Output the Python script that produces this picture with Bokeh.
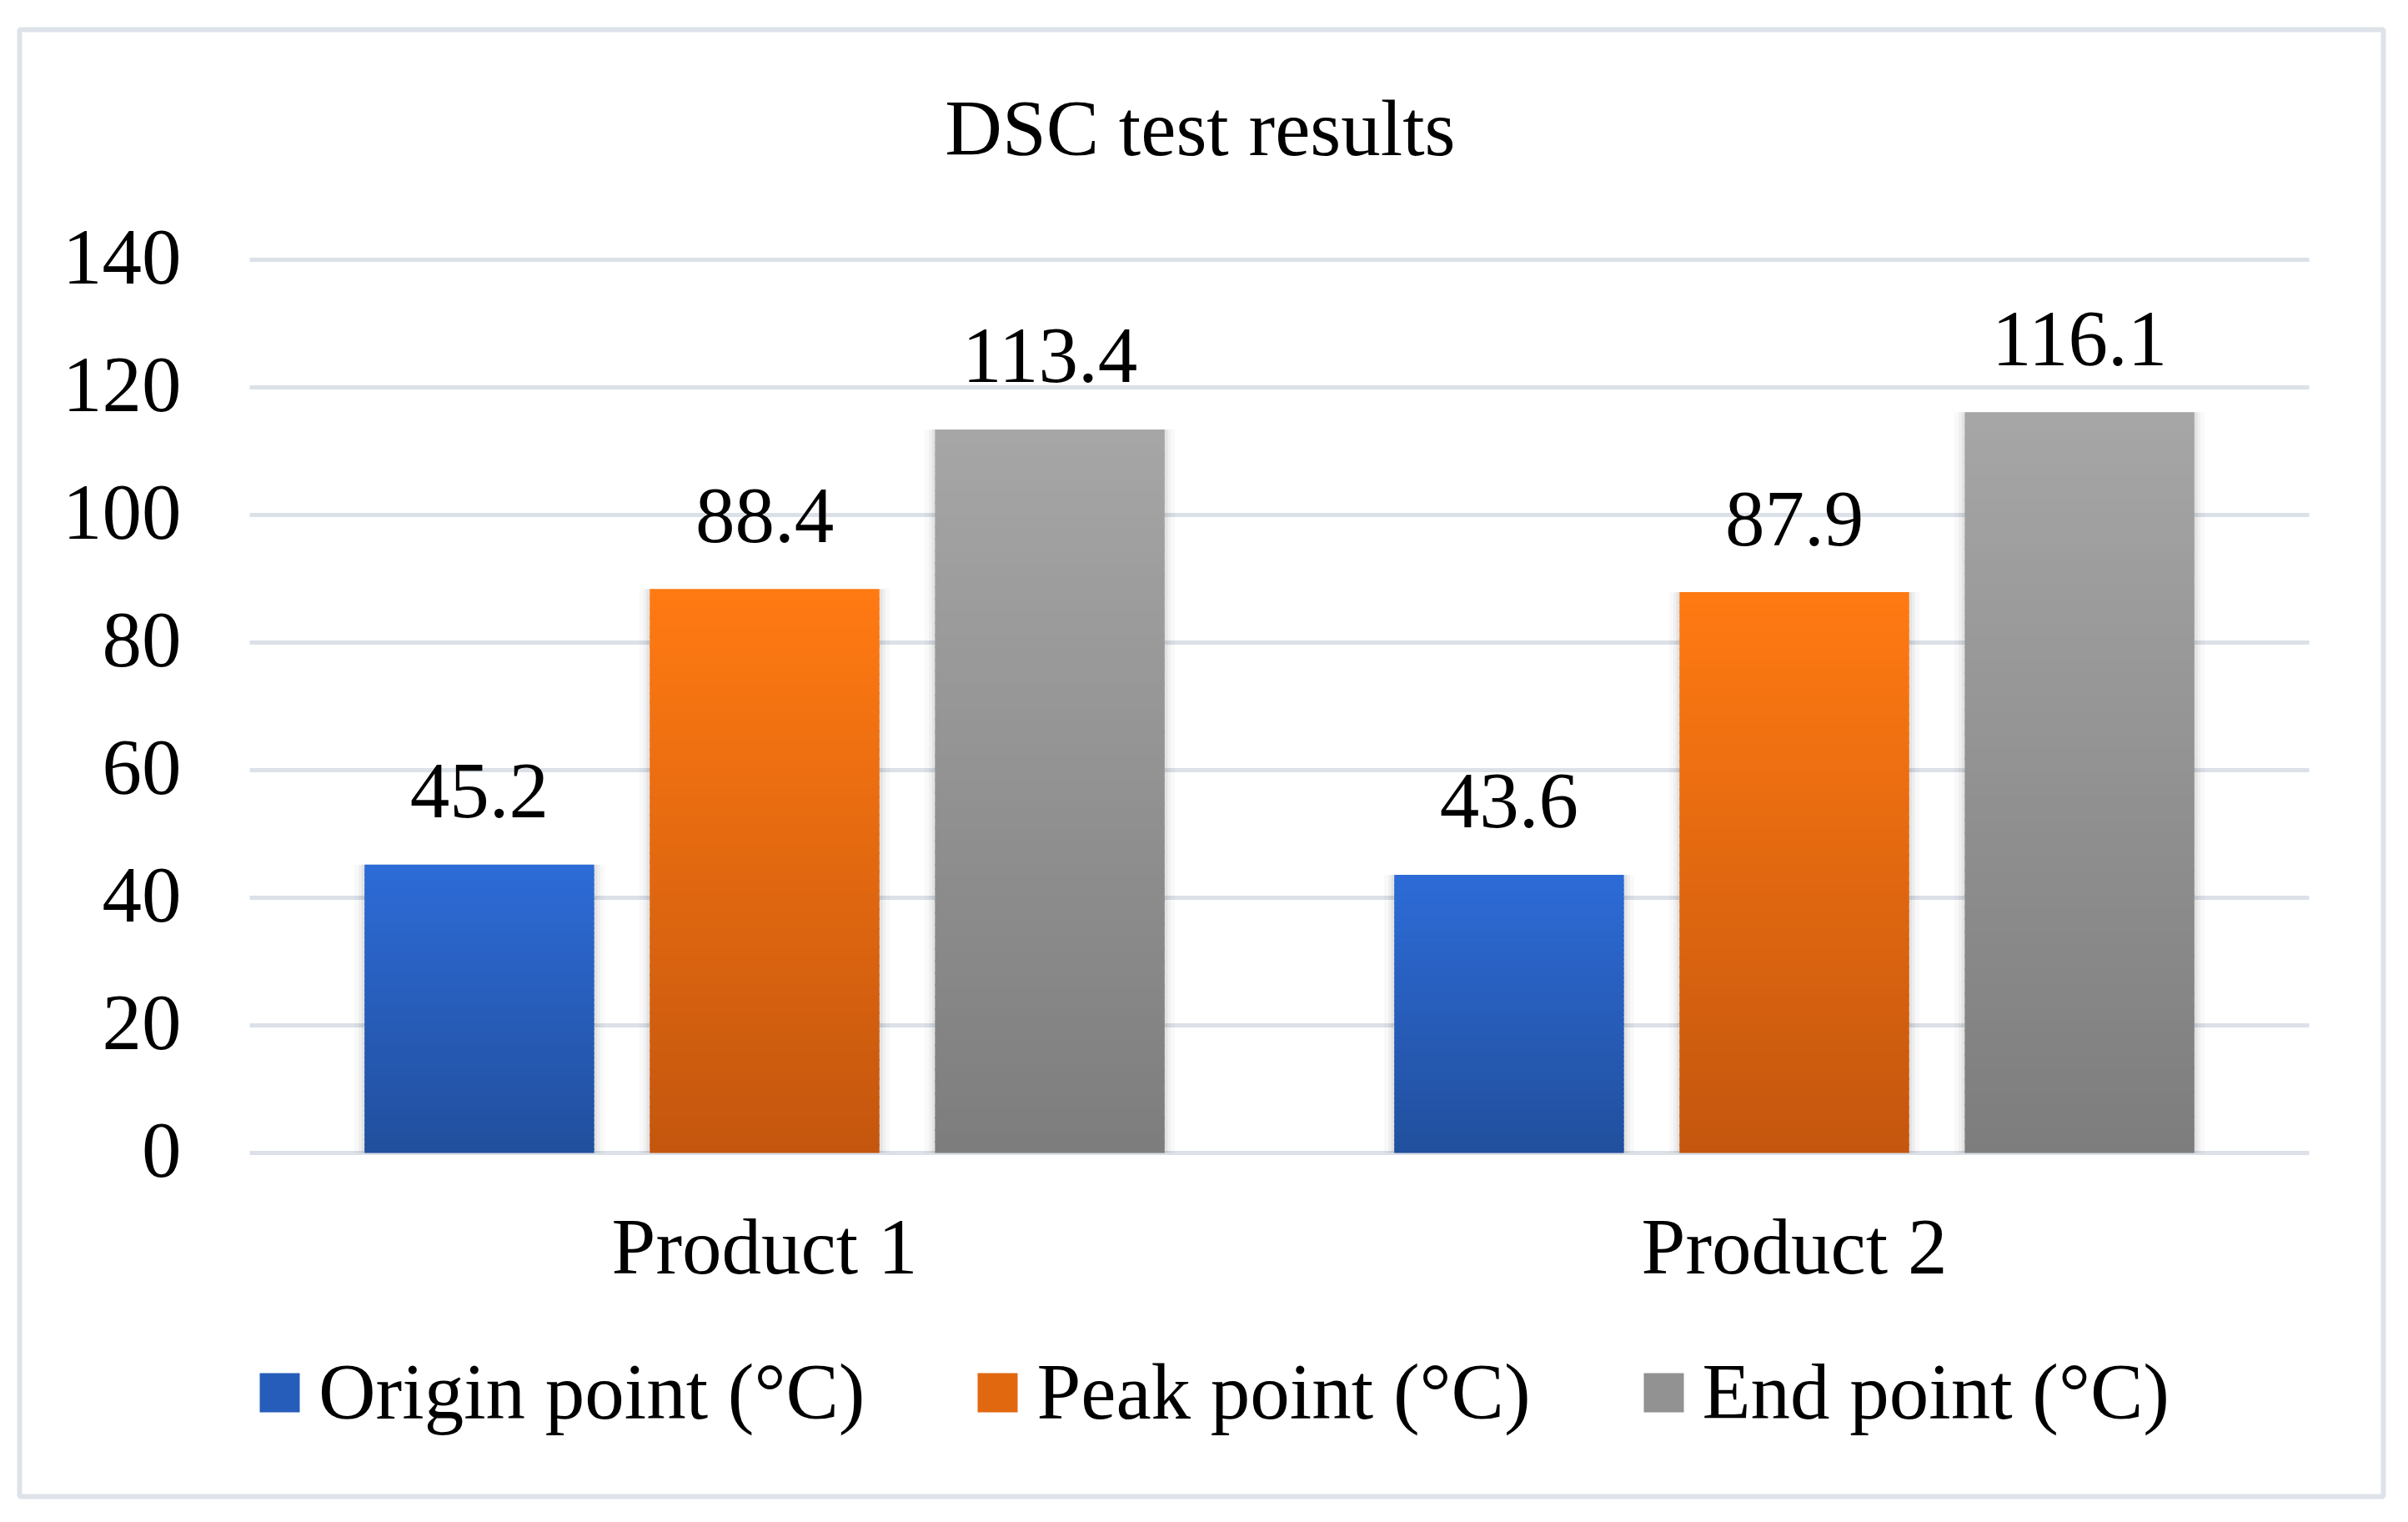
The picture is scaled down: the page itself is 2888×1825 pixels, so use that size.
from bokeh.plotting import figure
from bokeh.models import Range1d, Legend, LegendItem, ColumnDataSource
from bokeh.core.properties import value
from bokeh.embed import file_html
from bokeh.resources import INLINE

# ---------------- data ----------------
categories = ["Product 1", "Product 2"]
series_names = ["Origin point (°C)", "Peak point (°C)", "End point (°C)"]
origin_point = [45.2, 43.6]
peak_point = [88.4, 87.9]
end_point = [113.4, 116.1]
y_ticks = [0, 20, 40, 60, 80, 100, 120, 140]
title_text = "DSC test results"

series_values = [origin_point, peak_point, end_point]

# ---------------- style / geometry (pixels) ----------------
FONT = "Liberation Serif"
FS = "95px"
GRID = "#DCE1E8"
BORDER = "#DEE3EA"
top_colors = ["#2D6BD6", "#FF7A12", "#A6A6A6"]
bottom_colors = ["#214F9D", "#C4560E", "#7D7D7D"]
offsets = [-0.277, 0.0, 0.277]
BAR_W = 0.223
N = 60

FIG_W, FIG_H = 2872, 1809
BL, BR, BT, BB = 23, 2858, 35, 1794          # outer border box
PX0, PX1 = 299, 2769                          # plot area left/right
PY0, PY140 = 1382, 311                        # pixel of y=0 and y=140
ppx = (PX1 - PX0) / len(categories)
ppy = (PY0 - PY140) / 140.0

x_start = -(PX0 - BL) / ppx
x_end = len(categories) + (BR - PX1) / ppx
y_start = -(BB - PY0) / ppy
y_end = (PY0 - BT) / ppy


def mix(c1, c2, t):
    a = [int(c1[i:i + 2], 16) for i in (1, 3, 5)]
    b = [int(c2[i:i + 2], 16) for i in (1, 3, 5)]
    return "#%02x%02x%02x" % tuple(round(a[k] + (b[k] - a[k]) * t) for k in range(3))


p = figure(x_range=Range1d(x_start, x_end), y_range=Range1d(y_start, y_end),
           width=FIG_W, height=FIG_H,
           min_border_left=BL, min_border_right=FIG_W - BR,
           min_border_top=BT, min_border_bottom=FIG_H - BB,
           x_axis_location=None, y_axis_location=None,
           output_backend="svg", toolbar_location=None)
p.grid.visible = False
p.background_fill_color = "white"
p.border_fill_color = "white"
p.outline_line_color = BORDER
p.outline_line_width = 6

cat_pos = [i + 0.5 for i in range(len(categories))]
x_lo, x_hi = 0, len(categories)

txt = dict(text_font=value(FONT), text_font_size=value(FS), text_color="black",
           text_baseline="middle")

# horizontal gridlines + y tick labels
p.segment(x0=[x_lo] * len(y_ticks), x1=[x_hi] * len(y_ticks), y0=y_ticks, y1=y_ticks,
          line_color=GRID, line_width=5)
p.text(x=[x_lo] * len(y_ticks), y=y_ticks, text=[str(t) for t in y_ticks],
       x_offset=-82, y_offset=-3, text_align="right", **txt)

# category labels
p.text(x=cat_pos, y=[0] * len(categories), text=categories, y_offset=112,
       text_align="center", **txt)

# title
p.text(x=[0.923], y=[0], text=[title_text], y_offset=-(PY0 - 153),
       text_align="center", **txt)

legend_items = []
for s, vals in enumerate(series_values):
    xs = [c + offsets[s] for c in cat_pos]
    # soft shadow
    sh = ColumnDataSource(dict(x=xs, top=vals))
    for extra, alpha in ((0.020, 0.025), (0.012, 0.035), (0.006, 0.05)):
        p.vbar(x="x", top="top", bottom=0, width=BAR_W + extra, source=sh,
               fill_color="black", fill_alpha=alpha, line_color=None)
    # gradient strips built from the bar value
    px_, bots, tops, cols = [], [], [], []
    for x, v in zip(xs, vals):
        for k in range(N):
            px_.append(x)
            bots.append(max(0.0, v * k / N - 0.3))
            tops.append(v * (k + 1) / N)
            cols.append(mix(bottom_colors[s], top_colors[s], (k + 0.5) / N))
    src = ColumnDataSource(dict(x=px_, bottom=bots, top=tops, color=cols))
    r = p.vbar(x="x", top="top", bottom="bottom", width=BAR_W, source=src,
               fill_color="color", line_color=None)
    legend_items.append(LegendItem(label=value(series_names[s]), renderers=[r],
                                   index=N // 2))
    # data labels
    lab = ColumnDataSource(dict(x=xs, val=vals, txt=[f"{v:.1f}" for v in vals]))
    p.text(x="x", y="val", text="txt", source=lab, y_offset=-88,
           text_align="center", **txt)

legend = Legend(items=legend_items, orientation="horizontal",
                location=(282, 70), glyph_width=60, glyph_height=59,
                label_standoff=17, spacing=129, padding=0, margin=0,
                border_line_color=None, background_fill_alpha=0,
                label_text_font=FONT, label_text_font_size=FS,
                label_text_color="black")
p.add_layout(legend, "center")

open("out.html", "w").write(file_html(p, INLINE))
